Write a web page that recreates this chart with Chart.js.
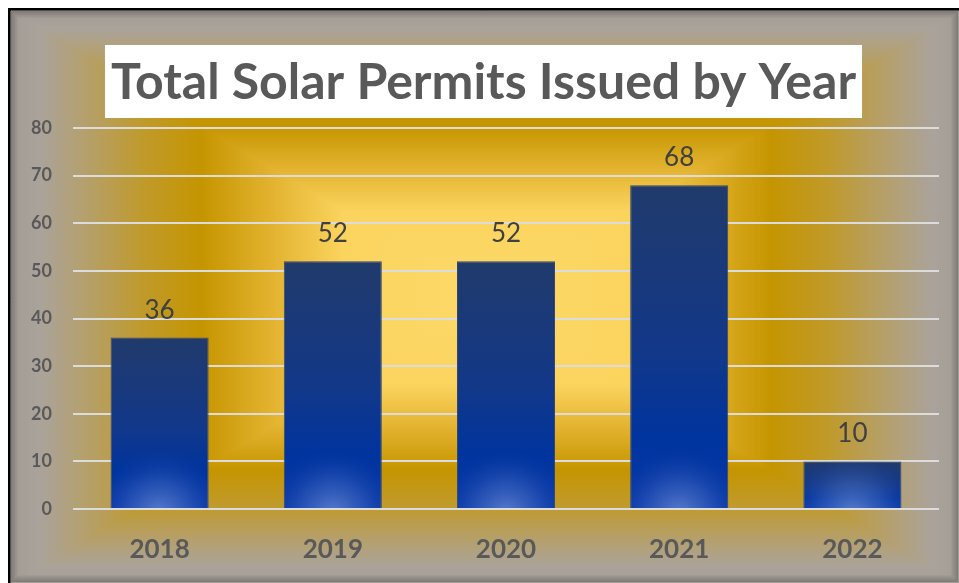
<!DOCTYPE html>
<html>
<head>
<meta charset="utf-8">
<script src="https://cdn.jsdelivr.net/npm/chart.js@4.4.1/dist/chart.umd.min.js"></script>
<style>
  html, body { margin: 0; padding: 0; background: #fff; overflow: hidden; }
  canvas { display: block; }
</style>
</head>
<body>
<canvas id="permits" width="959" height="583"></canvas>
<script>
const chartTitle = 'Total Solar Permits Issued by Year';
const years = ['2018', '2019', '2020', '2021', '2022'];
const permits = [36, 52, 52, 68, 10];
const yMin = 0, yMax = 80, yStep = 10;

// stops of the "from centre" fill, 0 = middle, 1 = frame edge
const frameStops = [
  [0, '#fdd96a'], [0.3, '#fbd45e'], [0.45, '#e3b330'], [0.6, '#c59500'],
  [0.72, '#c09a2a'], [0.85, '#b4a070'], [0.94, '#aaa39b'], [1, '#a29c96']
];

function fillRectGradient(ctx, x0, y0, x1, y1) {
  const cx = (x0 + x1) / 2, cy = (y0 + y1) / 2;
  const parts = [
    [x0, y0, x1, y0, cx, y0],
    [x1, y0, x1, y1, x1, cy],
    [x1, y1, x0, y1, cx, y1],
    [x0, y1, x0, y0, x0, cy]
  ];
  ctx.fillStyle = frameStops[frameStops.length - 1][1];
  ctx.fillRect(x0, y0, x1 - x0, y1 - y0);
  parts.forEach(p => {
    const g = ctx.createLinearGradient(cx, cy, p[4], p[5]);
    frameStops.forEach(s => g.addColorStop(s[0], s[1]));
    ctx.beginPath();
    ctx.moveTo(cx, cy);
    ctx.lineTo(p[0], p[1]);
    ctx.lineTo(p[2], p[3]);
    ctx.closePath();
    ctx.fillStyle = g;
    ctx.fill();
    ctx.strokeStyle = g;
    ctx.lineWidth = 1;
    ctx.stroke();
  });
}

const framePlugin = {
  id: 'frame',
  beforeDraw(chart) {
    const ctx = chart.ctx;
    const w = chart.width, h = chart.height;
    ctx.save();
    ctx.fillStyle = '#fff';
    ctx.fillRect(0, 0, w, h);
    ctx.fillStyle = '#000';
    ctx.fillRect(8, 8, w - 8, h - 8);
    fillRectGradient(ctx, 11, 11, w + 2, h + 2);
    // soft bevel just inside the black line
    for (let i = 0; i < 7; i++) {
      ctx.strokeStyle = 'rgba(55,55,55,' + (0.32 * (1 - i / 7)).toFixed(3) + ')';
      ctx.lineWidth = 1;
      ctx.strokeRect(11.5 + i, 11.5 + i, w - 13 - 2 * i, h - 13 - 2 * i);
    }
    // white box behind the title
    const tb = chart.titleBlock;
    if (tb) {
      ctx.font = 'bold 50px Lato';
      const tw = ctx.measureText(chartTitle).width;
      const cx = tb.left + tb.width / 2;
      ctx.fillStyle = '#fff';
      ctx.fillRect(cx - tw / 2 - 6, 45, tw + 12, 73);
    }
    ctx.restore();
  }
};

const valueLabels = {
  id: 'valueLabels',
  afterDatasetsDraw(chart) {
    const meta = chart.getDatasetMeta(0);
    const ctx = chart.ctx;
    ctx.save();
    ctx.font = '26px Lato';
    ctx.fillStyle = '#404040';
    ctx.textAlign = 'center';
    ctx.textBaseline = 'alphabetic';
    meta.data.forEach((bar, i) => {
      ctx.fillText(String(permits[i]), bar.x, bar.y - 19);
    });
    ctx.restore();
  }
};

function barFill(context) {
  if (context.type !== 'data') return '#0a3590';
  const { ctx, scales } = context.chart;
  const top = scales.y.getPixelForValue(context.raw);
  const bottom = scales.y.getPixelForValue(0);
  if (!isFinite(top) || !isFinite(bottom) || top === bottom) return '#0a3590';
  const g = ctx.createLinearGradient(0, top, 0, bottom);
  g.addColorStop(0, '#203a6b');
  g.addColorStop(0.5, '#133888');
  g.addColorStop(0.78, '#00349e');
  g.addColorStop(1, '#0838a8');
  return g;
}

function glowFill(context) {
  if (context.type !== 'data') return 'rgba(0,0,0,0)';
  const { ctx, scales } = context.chart;
  const cx = scales.x.getPixelForValue(context.dataIndex);
  const bottom = scales.y.getPixelForValue(0);
  if (!isFinite(cx) || !isFinite(bottom)) return 'rgba(0,0,0,0)';
  const g = ctx.createRadialGradient(cx, bottom + 6, 0, cx, bottom + 6, 66);
  g.addColorStop(0, 'rgba(130,160,222,0.7)');
  g.addColorStop(0.5, 'rgba(90,125,205,0.35)');
  g.addColorStop(1, 'rgba(20,60,170,0)');
  return g;
}

function makeChart() {
  const ctx = document.getElementById('permits').getContext('2d');
  new Chart(ctx, {
    type: 'bar',
    data: {
      labels: years,
      datasets: [{
        label: 'Permits',
        data: permits,
        backgroundColor: barFill,
        borderColor: '#34476f',
        borderWidth: 1,
        grouped: false,
        order: 2
      }, {
        label: 'glow',
        data: permits,
        backgroundColor: glowFill,
        borderWidth: 0,
        grouped: false,
        order: 1
      }]
    },
    options: {
      responsive: false,
      animation: false,
      devicePixelRatio: 1,
      layout: { padding: { left: 28, right: 20, top: 0, bottom: 18 } },
      datasets: { bar: { categoryPercentage: 1, barPercentage: 0.566 } },
      plugins: {
        legend: { display: false },
        tooltip: { enabled: false },
        title: {
          display: true,
          text: chartTitle,
          color: '#595959',
          font: { family: 'Lato', size: 50, weight: 'bold' },
          padding: { top: 53, bottom: 15 }
        }
      },
      scales: {
        x: {
          afterFit: s => { s.height = 56; },
          grid: { display: false, drawTicks: false },
          border: { display: false },
          ticks: {
            color: '#595959',
            font: { family: 'Lato', size: 26, weight: 'bold' },
            padding: 25
          }
        },
        y: {
          min: yMin,
          max: yMax,
          afterFit: s => { s.width = 45; },
          grid: { color: '#dcdcdc', lineWidth: 2, drawTicks: false },
          border: { display: false },
          ticks: {
            stepSize: yStep,
            color: '#595959',
            font: { family: 'Lato', size: 18, weight: 'bold' },
            padding: 21
          }
        }
      }
    },
    plugins: [framePlugin, valueLabels]
  });
}

Promise.all([
  document.fonts.load('bold 50px Lato'),
  document.fonts.load('26px Lato')
]).then(makeChart, makeChart);
</script>
</body>
</html>
